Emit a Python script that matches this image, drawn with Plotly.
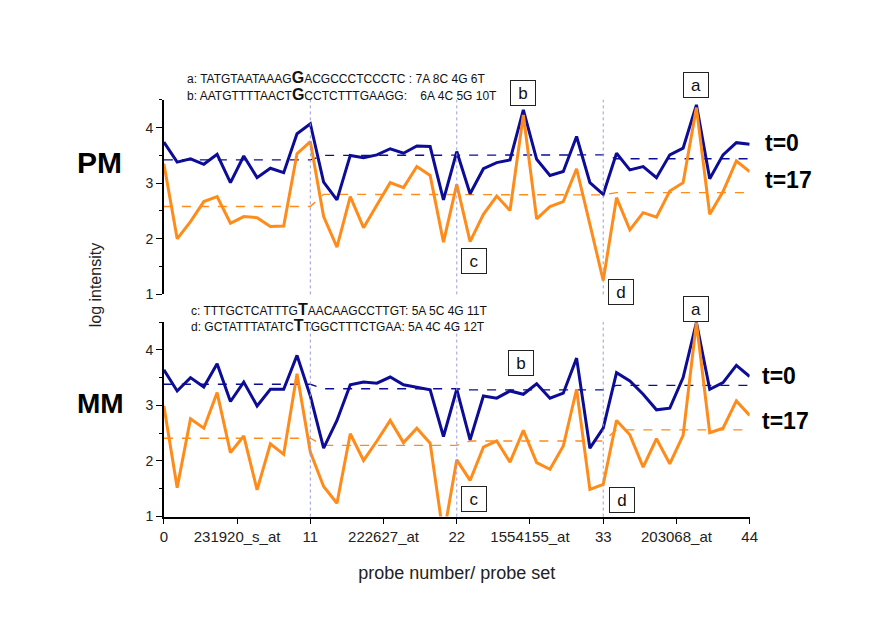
import plotly.graph_objects as go
from plotly.subplots import make_subplots

# ---------------- data ----------------
probe = list(range(45))

pm_t0 = [3.74, 3.38, 3.44, 3.34, 3.52, 3.01, 3.49, 3.10, 3.27, 3.19, 3.89, 4.07,
         3.02, 2.70, 3.50, 3.46, 3.51, 3.62, 3.54, 3.67, 3.66, 2.70, 3.57,
         2.81, 3.26, 3.37, 3.42, 4.32, 3.43, 3.14, 3.21, 3.84, 3.01, 2.80,
         3.54, 3.24, 3.30, 3.10, 3.51, 3.63, 4.41, 3.08, 3.51, 3.73, 3.70]
pm_t17 = [3.35, 2.00, 2.31, 2.67, 2.76, 2.28, 2.40, 2.38, 2.22, 2.23, 3.53, 3.75,
          2.40, 1.85, 2.76, 2.20, 2.61, 3.01, 2.92, 3.30, 3.14, 1.94, 2.98,
          1.95, 2.44, 2.77, 2.51, 4.23, 2.36, 2.58, 2.67, 3.26, 2.26, 1.25,
          2.74, 2.16, 2.47, 2.39, 2.86, 3.01, 4.36, 2.44, 2.85, 3.40, 3.21]
mm_t0 = [3.64, 3.26, 3.50, 3.33, 3.75, 3.07, 3.42, 2.99, 3.29, 3.29, 3.90, 3.17,
         2.23, 2.73, 3.37, 3.42, 3.40, 3.51, 3.37, 3.33, 3.28, 2.44, 3.29,
         2.38, 3.17, 3.13, 3.26, 3.20, 3.39, 3.13, 3.22, 3.85, 2.23, 2.59,
         3.59, 3.44, 3.20, 2.92, 2.95, 3.50, 4.49, 3.29, 3.41, 3.72, 3.52]
mm_t17 = [2.99, 1.52, 2.76, 2.59, 3.23, 2.15, 2.45, 1.48, 2.31, 2.12, 3.57, 2.16,
          1.54, 1.24, 2.49, 2.01, 2.36, 2.73, 2.33, 2.59, 2.32, 0.65, 2.02,
          1.65, 2.25, 2.36, 1.98, 2.55, 1.97, 1.85, 2.27, 3.29, 1.49, 1.58,
          2.73, 2.47, 1.89, 2.40, 1.95, 2.46, 4.49, 2.51, 2.59, 3.08, 2.82]

# probe-set boundaries and per-set mean levels (dashed lines)
set_bounds = [0, 11, 22, 33, 44]
probe_sets = ["231920_s_at", "222627_at", "1554155_at", "203068_at"]
pm_t0_level = [3.42, 3.50, 3.51, 3.44]
pm_t17_level = [2.58, 2.80, 2.79, 2.83]
mm_t0_level = [3.38, 3.30, 3.28, 3.36]
mm_t17_level = [2.41, 2.28, 2.36, 2.56]

# x-axis tick values / labels
tick_vals = [0, 5.5, 11, 16.5, 22, 27.5, 33, 38.5, 44]
tick_text = ["0", probe_sets[0], "11", probe_sets[1], "22", probe_sets[2],
             "33", probe_sets[3], "44"]

# probe sequences
seq_a = ("TATGTAATAAAG", "G", "ACGCCCTCCCTC", " : 7A 8C 4G 6T")
seq_b = ("AATGTTTTAACT", "G", "CCTCTTTGAAGG", ":    6A 4C 5G 10T")
seq_c = ("TTTGCTCATTTG", "T", "AACAAGCCTTGT", ": 5A 5C 4G 11T")
seq_d = ("GCTATTTATATC", "T", "TGGCTTTCTGAA", ": 5A 4C 4G 12T")

BLUE = "#0c0c96"
ORANGE = "#ff8c1a"
FONT = "Arial, Liberation Sans, sans-serif"
W, H = 869, 640

fig = make_subplots(rows=2, cols=1)


def step_line(levels):
    xs, ys = [], []
    for k, lv in enumerate(levels):
        x0 = set_bounds[k] + (1 if k > 0 else 0)
        xs += [x0, set_bounds[k + 1]]
        ys += [lv, lv]
    return xs, ys


for row, (t0, t17, l0, l17) in enumerate(
        [(pm_t0, pm_t17, pm_t0_level, pm_t17_level),
         (mm_t0, mm_t17, mm_t0_level, mm_t17_level)], start=1):
    for lv, col in [(l0, BLUE), (l17, ORANGE)]:
        xs, ys = step_line(lv)
        fig.add_trace(go.Scatter(x=xs, y=ys, mode="lines",
                                 line=dict(color=col, width=1.4, dash="dash"),
                                 showlegend=False, hoverinfo="skip"), row=row, col=1)
    fig.add_trace(go.Scatter(x=probe, y=t0, mode="lines",
                             line=dict(color=BLUE, width=3),
                             showlegend=False), row=row, col=1)
    fig.add_trace(go.Scatter(x=probe, y=t17, mode="lines",
                             line=dict(color=ORANGE, width=3),
                             showlegend=False), row=row, col=1)
    # vertical dotted separators
    for b in set_bounds[1:-1]:
        fig.add_shape(type="line", x0=b, x1=b, y0=0, y1=1,
                      xref="x" if row == 1 else "x2",
                      yref="y domain" if row == 1 else "y2 domain",
                      line=dict(color="#9a9ae0", width=1, dash="dot"))

# layout / axes
px_x0, px_x1 = 154, 748
top_y0, top_y1 = 93, 290
bot_y0, bot_y1 = 318, 515

yaxis_common = dict(range=[1, 4.5], showline=True, linecolor="black", linewidth=1.5,
                    ticks="outside", ticklen=6, tickwidth=1.2, tickcolor="black",
                    tickvals=[1, 2, 3, 4], showgrid=False, zeroline=False,
                    tickfont=dict(family=FONT, size=14, color="#222"),
                    minor=dict(ticks="outside", ticklen=3, tickwidth=1.2,
                               tickcolor="black", tickvals=[1.5, 2.5, 3.5, 4.5]))

fig.update_layout(
    width=W, height=H, plot_bgcolor="white", paper_bgcolor="white",
    margin=dict(l=0, r=0, t=0, b=0), showlegend=False,
    xaxis=dict(domain=[px_x0 / W, px_x1 / W], range=[0, 44], visible=False),
    xaxis2=dict(domain=[px_x0 / W, px_x1 / W], range=[0, 44], showline=True,
                linecolor="black", linewidth=1.5, ticks="outside", ticklen=6,
                tickwidth=1.2, tickcolor="black", tickvals=tick_vals,
                ticktext=tick_text, showgrid=False, zeroline=False,
                tickfont=dict(family=FONT, size=15, color="#222"),
                title=dict(text="probe number/ probe set",
                           font=dict(family=FONT, size=18, color="#222"),
                           standoff=22)),
    yaxis=dict(domain=[1 - top_y1 / H, 1 - top_y0 / H], **yaxis_common),
    yaxis2=dict(domain=[1 - bot_y1 / H, 1 - bot_y0 / H], **yaxis_common),
)

ann = []


def seq_text(tag, s):
    return (f"{tag}: {s[0]}<span style='font-size:16px'><b>{s[1]}</b></span>"
            f"{s[2]}{s[3]}")


for tag, s, (px, py) in [("a", seq_a, (175, 70)), ("b", seq_b, (175, 88)),
                         ("c", seq_c, (179, 305)), ("d", seq_d, (179, 322))]:
    ann.append(dict(text=seq_text(tag, s), xref="paper", yref="paper",
                    x=px / W, y=1 - py / H, xanchor="left", yanchor="middle",
                    showarrow=False, font=dict(family=FONT, size=12, color="#111")))

# boxed letters (x in data units, y in paper pixels)
for letter, xr, xv, py in [("a", "x", 40, 78), ("b", "x", 27, 86),
                           ("c", "x", 23.3, 256), ("d", "x", 34.3, 288),
                           ("a", "x2", 40, 305), ("b", "x2", 26.8, 359),
                           ("c", "x2", 23.3, 497), ("d", "x2", 34.4, 498)]:
    ann.append(dict(text=letter, xref=xr, yref="paper", x=xv, y=1 - py / H,
                    xanchor="center", yanchor="middle", showarrow=False,
                    font=dict(family=FONT, size=17, color="#111"),
                    bordercolor="#222", borderwidth=1, borderpad=2,
                    bgcolor="white", width=20, height=20))

# side labels
for txt, px, py, size in [("PM", 89, 156, 30), ("MM", 90, 401, 28)]:
    ann.append(dict(text=f"<b>{txt}</b>", xref="paper", yref="paper",
                    x=px / W, y=1 - py / H, xanchor="center", yanchor="middle",
                    showarrow=False, font=dict(family=FONT, size=size, color="black")))
for txt, px, py in [("t=0", 762, 137), ("t=17", 762, 174),
                    ("t=0", 758, 373), ("t=17", 758, 418)]:
    ann.append(dict(text=f"<b>{txt}</b>", xref="paper", yref="paper",
                    x=px / W, y=1 - py / H, xanchor="left", yanchor="middle",
                    showarrow=False, font=dict(family=FONT, size=23, color="black")))

ann.append(dict(text="log intensity", xref="paper", yref="paper",
                x=85 / W, y=1 - 280 / H, xanchor="center", yanchor="middle",
                textangle=-90, showarrow=False,
                font=dict(family=FONT, size=16, color="#222")))

fig.update_layout(annotations=ann)
fig.write_html("out.html")
